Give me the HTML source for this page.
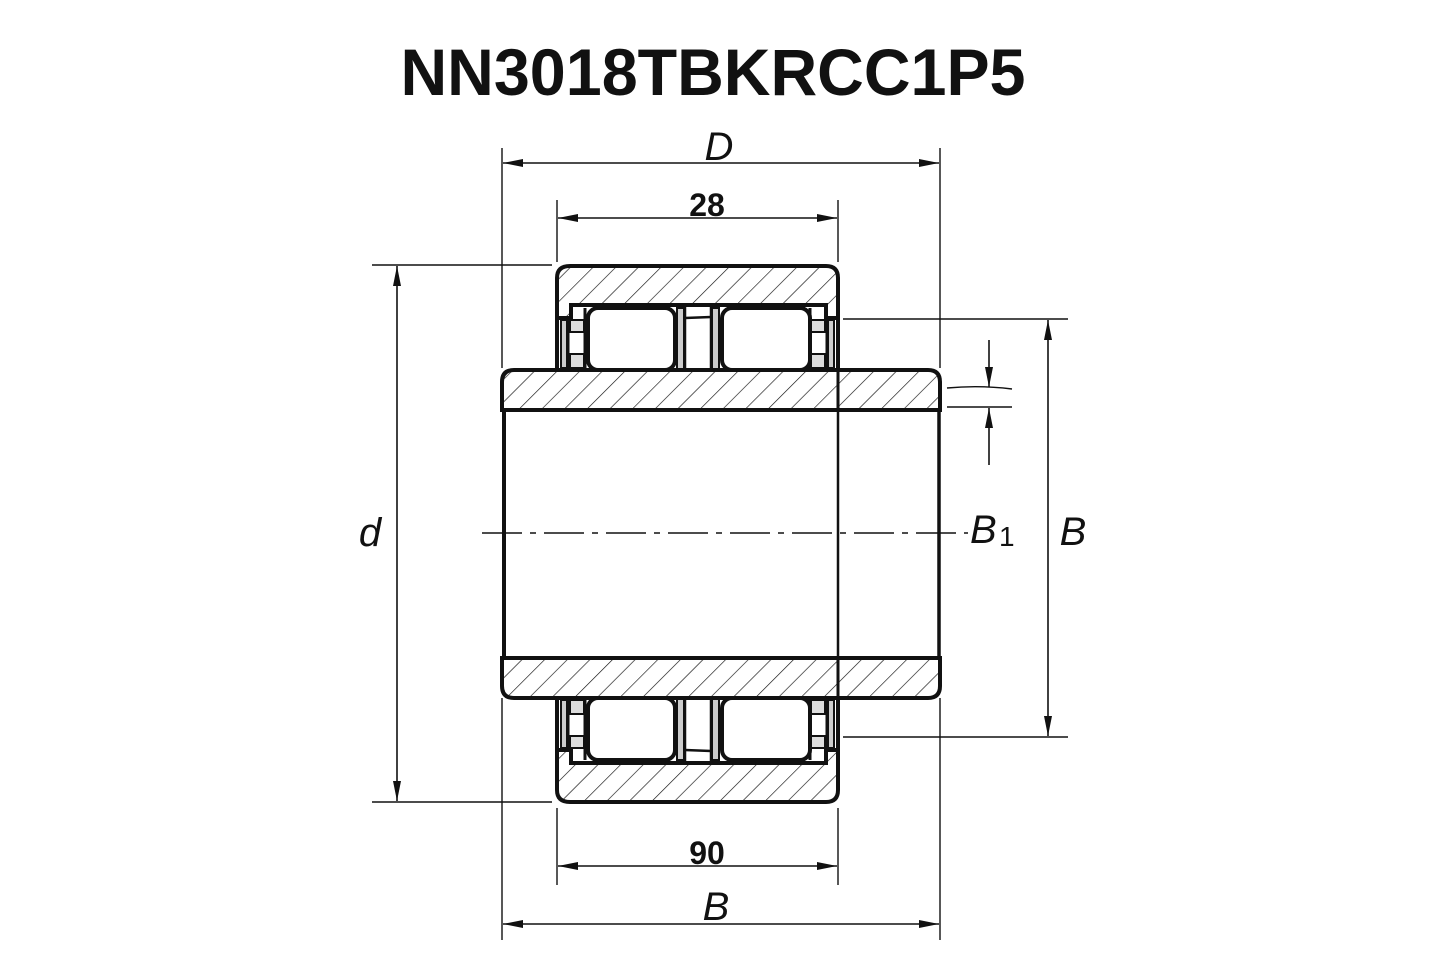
<!DOCTYPE html>
<html><head><meta charset="utf-8"><style>
html,body{margin:0;padding:0;background:#fff;}
svg{display:block;}
text{font-family:"Liberation Sans",sans-serif;fill:#111;}
</style></head><body>
<svg width="1445" height="963" viewBox="0 0 1445 963" xmlns="http://www.w3.org/2000/svg">
<defs>
<pattern id="h" patternUnits="userSpaceOnUse" width="16" height="16" patternTransform="rotate(45)">
<line x1="0" y1="0" x2="0" y2="16" stroke="#111" stroke-width="1.3"/>
</pattern>
<pattern id="h2" patternUnits="userSpaceOnUse" width="16" height="16" patternTransform="rotate(-45)">
<line x1="0" y1="0" x2="0" y2="16" stroke="#111" stroke-width="1.3"/>
</pattern>
<marker id="a" viewBox="0 0 20 8" refX="20" refY="4" markerWidth="20" markerHeight="8" markerUnits="userSpaceOnUse" orient="auto-start-reverse">
<path d="M0,0 L20,4 L0,8 Z" fill="#111"/>
</marker>
<g id="half" stroke="#111">
  <path d="M557,305 L557,278 Q557,266 570,266 L826,266 Q838,266 838,278 L838,318 L826,318 L826,305 L571,305 L571,318 L557,318 Z" stroke-width="4"/>
  <line x1="557" y1="318" x2="557" y2="370" stroke-width="4"/>
  <line x1="838" y1="318" x2="838" y2="370" stroke-width="4"/>
  <rect x="561" y="320" width="6" height="48" stroke-width="2" fill="#ccc"/>
  <rect x="828" y="320" width="6" height="48" stroke-width="2" fill="#ccc"/>
  <line x1="568" y1="318" x2="568" y2="370" stroke-width="3"/>
  <line x1="827" y1="318" x2="827" y2="370" stroke-width="3"/>
  <rect x="570" y="320" width="14" height="12" stroke-width="2" fill="#ddd"/>
  <rect x="570" y="354" width="14" height="14" stroke-width="2" fill="#ddd"/>
  <rect x="811" y="320" width="14" height="12" stroke-width="2" fill="#ddd"/>
  <rect x="811" y="354" width="14" height="14" stroke-width="2" fill="#ddd"/>
  <line x1="585" y1="308" x2="585" y2="370" stroke-width="3"/>
  <line x1="810" y1="308" x2="810" y2="370" stroke-width="3"/>
  <rect x="588" y="308" width="87" height="62" rx="10" stroke-width="4" fill="#fff"/>
  <rect x="722" y="308" width="88" height="62" rx="10" stroke-width="4" fill="#fff"/>
  <rect x="677" y="308" width="7" height="62" stroke-width="2" fill="#ccc"/>
  <rect x="712" y="308" width="7" height="62" stroke-width="2" fill="#ccc"/>
  <line x1="685" y1="305" x2="685" y2="370" stroke-width="2.5"/>
  <line x1="711" y1="305" x2="711" y2="370" stroke-width="2.5"/>
  <line x1="685" y1="318" x2="711" y2="317" stroke-width="2.5"/>
  <path d="M502,410 L502,382 Q502,370 514,370 L928,370 Q940,370 940,382 L940,410 Z" stroke-width="4"/>
  <line x1="838" y1="370" x2="838" y2="410" stroke-width="3"/>
</g>
</defs>

<text x="713" y="95" font-size="66" font-weight="bold" text-anchor="middle" textLength="625" lengthAdjust="spacingAndGlyphs">NN3018TBKRCC1P5</text>

<use href="#half" fill="url(#h)"/>
<use href="#half" fill="url(#h2)" transform="translate(0,1068) scale(1,-1)"/>

<g stroke="#111" fill="none">
  <line x1="504" y1="410" x2="504" y2="658" stroke-width="4"/>
  <line x1="939" y1="410" x2="939" y2="658" stroke-width="3.5"/>
  <line x1="838" y1="410" x2="838" y2="658" stroke-width="2.5"/>
  <line x1="482" y1="533" x2="968" y2="533" stroke-width="1.4" stroke-dasharray="40,8,6,8"/>

  <line x1="502" y1="148" x2="502" y2="368" stroke-width="1.4"/>
  <line x1="940" y1="148" x2="940" y2="368" stroke-width="1.4"/>
  <line x1="503" y1="163" x2="939" y2="163" stroke-width="1.6" marker-start="url(#a)" marker-end="url(#a)"/>
  <line x1="557" y1="200" x2="557" y2="262" stroke-width="1.4"/>
  <line x1="838" y1="200" x2="838" y2="262" stroke-width="1.4"/>
  <line x1="558" y1="218" x2="837" y2="218" stroke-width="1.6" marker-start="url(#a)" marker-end="url(#a)"/>
  <line x1="372" y1="265" x2="552" y2="265" stroke-width="1.4"/>
  <line x1="372" y1="802" x2="552" y2="802" stroke-width="1.4"/>
  <line x1="397" y1="266" x2="397" y2="801" stroke-width="1.6" marker-start="url(#a)" marker-end="url(#a)"/>
  <line x1="843" y1="319" x2="1068" y2="319" stroke-width="1.4"/>
  <line x1="843" y1="737" x2="1068" y2="737" stroke-width="1.4"/>
  <line x1="1048" y1="320" x2="1048" y2="736" stroke-width="1.6" marker-start="url(#a)" marker-end="url(#a)"/>
  <path d="M947,388 Q980,385 1012,389" stroke-width="1.4"/>
  <line x1="947" y1="407" x2="1012" y2="407" stroke-width="1.4"/>
  <line x1="989" y1="340" x2="989" y2="387" stroke-width="1.6" marker-end="url(#a)"/>
  <line x1="989" y1="465" x2="989" y2="408" stroke-width="1.6" marker-end="url(#a)"/>
  <line x1="557" y1="808" x2="557" y2="885" stroke-width="1.4"/>
  <line x1="838" y1="808" x2="838" y2="885" stroke-width="1.4"/>
  <line x1="558" y1="866" x2="837" y2="866" stroke-width="1.6" marker-start="url(#a)" marker-end="url(#a)"/>
  <line x1="502" y1="698" x2="502" y2="940" stroke-width="1.4"/>
  <line x1="940" y1="698" x2="940" y2="940" stroke-width="1.4"/>
  <line x1="503" y1="924" x2="939" y2="924" stroke-width="1.6" marker-start="url(#a)" marker-end="url(#a)"/>
</g>

<text x="719" y="160" font-size="40" font-style="italic" text-anchor="middle">D</text>
<text x="707" y="216" font-size="32" font-weight="bold" text-anchor="middle">28</text>
<text x="370" y="546" font-size="40" font-style="italic" text-anchor="middle">d</text>
<text x="970" y="543" font-size="40" font-style="italic">B</text>
<text x="999" y="546" font-size="28">1</text>
<text x="1073" y="545" font-size="40" font-style="italic" text-anchor="middle">B</text>
<text x="707" y="864" font-size="32" font-weight="bold" text-anchor="middle">90</text>
<text x="716" y="920" font-size="40" font-style="italic" text-anchor="middle">B</text>
</svg>
</body></html>
